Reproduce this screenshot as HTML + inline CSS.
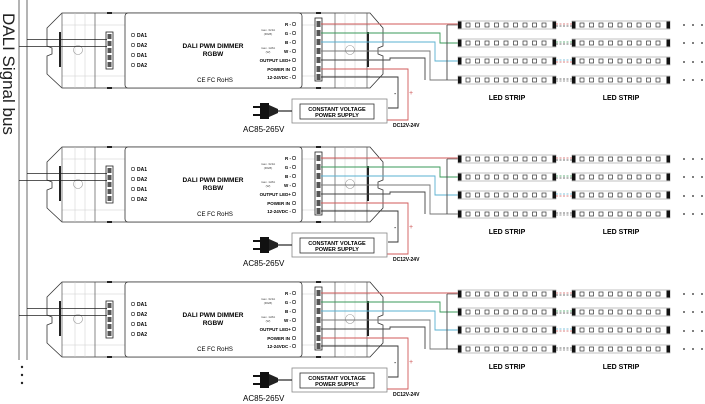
<!DOCTYPE html>
<html><head><meta charset="utf-8"><style>
html,body{margin:0;padding:0;background:#fff;width:705px;height:404px;overflow:hidden}
text{font-family:"Liberation Sans",sans-serif}
.b{font-weight:bold}
</style></head><body>
<svg width="705" height="404" viewBox="0 0 705 404" xmlns="http://www.w3.org/2000/svg">
<defs>
<g id="strip">
 <rect x="0" y="-4" width="98" height="8" fill="#fff" stroke="#999" stroke-width="0.6"/>
 <rect x="0" y="-3.5" width="3.5" height="7" fill="#111"/>
 <rect x="94.5" y="-3.5" width="3.5" height="7" fill="#111"/>
 <g fill="none" stroke="#333" stroke-width="0.7">
  <rect x="8" y="-2" width="4" height="4"/><rect x="17.5" y="-2" width="4" height="4"/>
  <rect x="27" y="-2" width="4" height="4"/><rect x="36.5" y="-2" width="4" height="4"/>
  <rect x="46" y="-2" width="4" height="4"/><rect x="55.5" y="-2" width="4" height="4"/>
  <rect x="65" y="-2" width="4" height="4"/><rect x="74.5" y="-2" width="4" height="4"/>
  <rect x="84" y="-2" width="4" height="4"/>
 </g>
</g>
<g id="blk">
 <path d="M62,13 L370,13 L383,28 L383,46 L378,48 L378,54 L383,56 L383,74 L370,88 L62,88 L47,74 L47,56 L52,54 L52,48 L47,46 L47,28 Z" fill="#fff" stroke="#333" stroke-width="0.8"/>
 <g stroke="#ccc" stroke-width="0.5">
  <line x1="62" y1="25" x2="125" y2="25"/><line x1="62" y1="76" x2="125" y2="76"/>
  <line x1="75" y1="13" x2="75" y2="88"/><line x1="85" y1="13" x2="85" y2="88"/>
  <line x1="302" y1="25" x2="370" y2="25"/><line x1="302" y1="76" x2="370" y2="76"/>
  <line x1="345" y1="13" x2="345" y2="88"/><line x1="355" y1="13" x2="355" y2="88"/>
 </g>
 <g stroke="#555" stroke-width="0.7">
  <line x1="62" y1="13" x2="62" y2="88"/><line x1="95" y1="13" x2="95" y2="88"/>
  <line x1="335" y1="13" x2="335" y2="88"/><line x1="367" y1="13" x2="367" y2="88"/>
 </g>
 <rect x="59" y="32" width="2" height="35" fill="#222"/>
 <rect x="367" y="32" width="2" height="35" fill="#222"/>
 <circle cx="78" cy="50" r="4.5" fill="none" stroke="#999" stroke-width="0.6"/>
 <circle cx="350" cy="50" r="4.5" fill="none" stroke="#999" stroke-width="0.6"/>
 <rect x="107" y="12" width="5" height="2" fill="#222"/><rect x="107" y="87" width="5" height="2" fill="#222"/>
 <rect x="316" y="12" width="5" height="2" fill="#222"/><rect x="316" y="87" width="5" height="2" fill="#222"/>
 <rect x="125" y="13" width="177" height="75" rx="3" fill="#fff" stroke="#333" stroke-width="0.8"/>
 <rect x="106" y="32" width="7" height="37" fill="#fff" stroke="#222" stroke-width="0.8"/>
 <g fill="#555"><rect x="107.5" y="34" width="4" height="5"/><rect x="107.5" y="41" width="4" height="5"/><rect x="107.5" y="48" width="4" height="5"/><rect x="107.5" y="55" width="4" height="5"/><rect x="107.5" y="62" width="4" height="5"/></g>
 <rect x="315" y="18" width="7" height="63" fill="#fff" stroke="#222" stroke-width="0.8"/>
 <g fill="#555"><rect x="316.5" y="21" width="4" height="6"/><rect x="316.5" y="30" width="4" height="6"/><rect x="316.5" y="39" width="4" height="6"/><rect x="316.5" y="48" width="4" height="6"/><rect x="316.5" y="57" width="4" height="6"/><rect x="316.5" y="66" width="4" height="6"/><rect x="316.5" y="74" width="4" height="6"/></g>
 <g fill="#fff" stroke="#222" stroke-width="0.6">
  <circle cx="133" cy="35" r="1.7"/><circle cx="133" cy="45" r="1.7"/><circle cx="133" cy="55" r="1.7"/><circle cx="133" cy="65" r="1.7"/>
  <circle cx="294" cy="24" r="1.7"/><circle cx="294" cy="33" r="1.7"/><circle cx="294" cy="42" r="1.7"/><circle cx="294" cy="51" r="1.7"/><circle cx="294" cy="60" r="1.7"/><circle cx="294" cy="69" r="1.7"/><circle cx="294" cy="77" r="1.7"/>
 </g>
 <g stroke="#222" stroke-width="0.7">
  <line x1="27" y1="39.5" x2="107" y2="39.5"/><line x1="19" y1="46.5" x2="107" y2="46.5"/>
 </g>
 <g fill="none" stroke-width="0.9">
  <polyline points="321,24 458,24" stroke="#d05a5a"/>
  <polyline points="321,33 440,33 440,43 458,43" stroke="#3a9a5a"/>
  <polyline points="321,42 435,42 435,61 458,61" stroke="#5ab0d0"/>
  <polyline points="321,51 430,51 430,80 458,80" stroke="#777"/>
  <polyline points="321,60 390,60 390,58 425,58 425,80" stroke="#444"/>
  <polyline points="447,25 447,80" stroke="#444"/>
  <polyline points="447,25 458,25 M447,43 458,43 M447,61 458,61 M447,80 458,80" stroke="#444" stroke-width="0.6"/>
  <polyline points="321,69 408,69 408,120 386,120" stroke="#d05a5a"/>
  <polyline points="321,77 398,77 398,108 388,108" stroke="#333"/>
 </g>
 <use href="#strip" x="458" y="25"/><use href="#strip" x="458" y="43"/><use href="#strip" x="458" y="61"/><use href="#strip" x="458" y="80"/>
 <use href="#strip" x="572" y="25"/><use href="#strip" x="572" y="43"/><use href="#strip" x="572" y="61"/><use href="#strip" x="572" y="80"/>
 <g stroke-dasharray="2,1.5" stroke-width="0.8">
  <line x1="556" y1="24" x2="572" y2="24" stroke="#d05a5a"/><line x1="556" y1="26" x2="572" y2="26" stroke="#444"/>
  <line x1="556" y1="42" x2="572" y2="42" stroke="#3a9a5a"/><line x1="556" y1="44" x2="572" y2="44" stroke="#444"/>
  <line x1="556" y1="60" x2="572" y2="60" stroke="#5ab0d0"/><line x1="556" y1="62" x2="572" y2="62" stroke="#d05a5a"/>
  <line x1="556" y1="79" x2="572" y2="79" stroke="#444"/><line x1="556" y1="81" x2="572" y2="81" stroke="#777"/>
 </g>
 <g fill="#222"><circle cx="684" cy="25" r="0.9"/><circle cx="693" cy="25" r="0.9"/><circle cx="702" cy="25" r="0.9"/>
 <circle cx="684" cy="43" r="0.9"/><circle cx="693" cy="43" r="0.9"/><circle cx="702" cy="43" r="0.9"/>
 <circle cx="684" cy="62" r="0.9"/><circle cx="693" cy="62" r="0.9"/><circle cx="702" cy="62" r="0.9"/>
 <circle cx="684" cy="80" r="0.9"/><circle cx="693" cy="80" r="0.9"/><circle cx="702" cy="80" r="0.9"/></g>
 <rect x="292" y="99" width="95" height="24" fill="#fff" stroke="#888" stroke-width="0.8"/>
 <rect x="300" y="104" width="74" height="15" fill="#fff" stroke="#333" stroke-width="0.8"/>
 <rect x="253" y="106" width="8" height="2" fill="#111"/><rect x="253" y="114" width="8" height="2" fill="#111"/>
 <rect x="260" y="103" width="9" height="16" fill="#111"/>
 <path d="M269,105 L278,109 L278,113 L269,117 Z" fill="#222"/>
 <line x1="278" y1="111" x2="292" y2="111" stroke="#222" stroke-width="1.2"/>
</g>
</defs>

<line x1="19" y1="0" x2="19" y2="360" stroke="#444" stroke-width="0.8"/>
<line x1="27" y1="0" x2="27" y2="360" stroke="#444" stroke-width="0.8"/>
<text transform="translate(3,13) rotate(90)" font-size="17" fill="#222">DALI Signal bus</text>
<g fill="#222"><circle cx="22" cy="367" r="1.2"/><circle cx="22" cy="375" r="1.2"/><circle cx="22" cy="383" r="1.2"/></g>

<use href="#blk" x="0" y="0"/>
<use href="#blk" x="0" y="134"/>
<use href="#blk" x="0" y="269"/>

<g>
<text x="137" y="37" font-size="5" class="b">DA1</text><text x="137" y="47" font-size="5" class="b">DA2</text><text x="137" y="57" font-size="5" class="b">DA1</text><text x="137" y="67" font-size="5" class="b">DA2</text>
<text x="213" y="48" font-size="6.5" class="b" text-anchor="middle">DALI PWM DIMMER</text><text x="213" y="56" font-size="6.5" class="b" text-anchor="middle">RGBW</text>
<text x="215" y="82" font-size="6" text-anchor="middle">CE FC RoHS</text>
<g font-size="4.5" class="b" text-anchor="end"><text x="291" y="26">R -</text><text x="291" y="35">G -</text><text x="291" y="44">B -</text><text x="291" y="53">W -</text><text x="291" y="62">OUTPUT LED+</text><text x="290" y="71">POWER IN</text><text x="291" y="79">12-24VDC -</text></g>
<g font-size="3" text-anchor="middle" fill="#444"><text x="268" y="31">max. 3x3A</text><text x="268" y="35">(RGB)</text><text x="268" y="49">max. 1x8A</text><text x="268" y="53">(W)</text></g>
<text x="337" y="111" font-size="5.5" class="b" text-anchor="middle">CONSTANT VOLTAGE</text><text x="337" y="117" font-size="5.5" class="b" text-anchor="middle">POWER SUPPLY</text>
<text x="243" y="132" font-size="8">AC85-265V</text>
<text x="393" y="127" font-size="5" class="b">DC12V-24V</text>
<text x="394" y="96" font-size="7">-</text><text x="409" y="95" font-size="7" fill="#d05a5a">+</text>
<text x="507" y="100" font-size="7" class="b" text-anchor="middle">LED STRIP</text><text x="621" y="100" font-size="7" class="b" text-anchor="middle">LED STRIP</text>
</g>
<g transform="translate(0,134)">
<text x="137" y="37" font-size="5" class="b">DA1</text><text x="137" y="47" font-size="5" class="b">DA2</text><text x="137" y="57" font-size="5" class="b">DA1</text><text x="137" y="67" font-size="5" class="b">DA2</text>
<text x="213" y="48" font-size="6.5" class="b" text-anchor="middle">DALI PWM DIMMER</text><text x="213" y="56" font-size="6.5" class="b" text-anchor="middle">RGBW</text>
<text x="215" y="82" font-size="6" text-anchor="middle">CE FC RoHS</text>
<g font-size="4.5" class="b" text-anchor="end"><text x="291" y="26">R -</text><text x="291" y="35">G -</text><text x="291" y="44">B -</text><text x="291" y="53">W -</text><text x="291" y="62">OUTPUT LED+</text><text x="290" y="71">POWER IN</text><text x="291" y="79">12-24VDC -</text></g>
<g font-size="3" text-anchor="middle" fill="#444"><text x="268" y="31">max. 3x3A</text><text x="268" y="35">(RGB)</text><text x="268" y="49">max. 1x8A</text><text x="268" y="53">(W)</text></g>
<text x="337" y="111" font-size="5.5" class="b" text-anchor="middle">CONSTANT VOLTAGE</text><text x="337" y="117" font-size="5.5" class="b" text-anchor="middle">POWER SUPPLY</text>
<text x="243" y="132" font-size="8">AC85-265V</text>
<text x="393" y="127" font-size="5" class="b">DC12V-24V</text>
<text x="394" y="96" font-size="7">-</text><text x="409" y="95" font-size="7" fill="#d05a5a">+</text>
<text x="507" y="100" font-size="7" class="b" text-anchor="middle">LED STRIP</text><text x="621" y="100" font-size="7" class="b" text-anchor="middle">LED STRIP</text>
</g>
<g transform="translate(0,269)">
<text x="137" y="37" font-size="5" class="b">DA1</text><text x="137" y="47" font-size="5" class="b">DA2</text><text x="137" y="57" font-size="5" class="b">DA1</text><text x="137" y="67" font-size="5" class="b">DA2</text>
<text x="213" y="48" font-size="6.5" class="b" text-anchor="middle">DALI PWM DIMMER</text><text x="213" y="56" font-size="6.5" class="b" text-anchor="middle">RGBW</text>
<text x="215" y="82" font-size="6" text-anchor="middle">CE FC RoHS</text>
<g font-size="4.5" class="b" text-anchor="end"><text x="291" y="26">R -</text><text x="291" y="35">G -</text><text x="291" y="44">B -</text><text x="291" y="53">W -</text><text x="291" y="62">OUTPUT LED+</text><text x="290" y="71">POWER IN</text><text x="291" y="79">12-24VDC -</text></g>
<g font-size="3" text-anchor="middle" fill="#444"><text x="268" y="31">max. 3x3A</text><text x="268" y="35">(RGB)</text><text x="268" y="49">max. 1x8A</text><text x="268" y="53">(W)</text></g>
<text x="337" y="111" font-size="5.5" class="b" text-anchor="middle">CONSTANT VOLTAGE</text><text x="337" y="117" font-size="5.5" class="b" text-anchor="middle">POWER SUPPLY</text>
<text x="243" y="132" font-size="8">AC85-265V</text>
<text x="393" y="127" font-size="5" class="b">DC12V-24V</text>
<text x="394" y="96" font-size="7">-</text><text x="409" y="95" font-size="7" fill="#d05a5a">+</text>
<text x="507" y="100" font-size="7" class="b" text-anchor="middle">LED STRIP</text><text x="621" y="100" font-size="7" class="b" text-anchor="middle">LED STRIP</text>
</g>
</svg>
</body></html>
